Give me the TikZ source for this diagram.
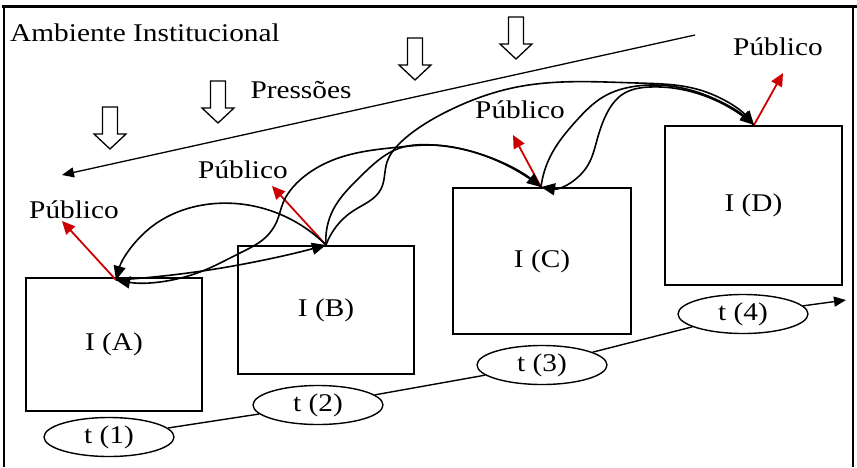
\documentclass[tikz,border=0pt]{standalone}
\usepackage{fontspec}
\setmainfont{Liberation Serif}[FakeStretch=1.15]
\usetikzlibrary{arrows.meta,shapes.geometric,hobby}

\tikzset{
  txt/.style={font=\fontsize{25.5}{28}\selectfont, inner sep=0pt},
  inst/.style={draw, line width=1.4pt, font=\fontsize{25.5}{28}\selectfont},
  tempo/.style={draw, ellipse, line width=1.4pt, minimum width=130pt, minimum height=39pt,
    inner sep=0pt, font=\fontsize{25.5}{28}\selectfont},
  flow/.style={line width=1.6pt, -{Triangle[length=14pt,width=12pt]}},
  pub/.style={draw=red!80!black, line width=1.8pt, -{Triangle[length=13pt,width=12pt]}},
  tline/.style={line width=1.4pt},
  pressure/.pic={
    \draw[line width=1.3pt, fill=white]
      (-7.5,0) -- (-7.5,27) -- (-16,27) -- (0,42) -- (16,27) -- (7.5,27) -- (7.5,0) -- cycle;
  }
}

\begin{document}
\begin{tikzpicture}[x=1pt,y=-1pt]
\useasboundingbox (0,0) rectangle (857,467);

% frame
\draw[line width=3pt] (2,6) -- (857,6);
\draw[line width=1.5pt] (4,6) -- (4,467);
\draw[line width=1.5pt] (853,6) -- (853,467);

% labels of the environment
\node[txt, anchor=west] (amb) at (10,33) {Ambiente Institucional};
\node[txt] (press) at (301,90) {Pressões};

% pressures coming down from the environment
\pic at (110,107) {pressure};
\pic at (218,81) {pressure};
\pic at (415,38) {pressure};
\pic at (516,17) {pressure};

% long pressure line
\coordinate (pr1) at (695,35);
\coordinate (pr2) at (62,175);
\draw[line width=1.3pt, -{Triangle[length=12pt,width=10pt]}] (pr1) -- (pr2);

% institutions
\node[inst, minimum width=176pt, minimum height=133pt] (A) at (114,344.5) {I (A)};
\node[inst, minimum width=176pt, minimum height=128pt] (B) at (326,310) {I (B)};
\node[inst, minimum width=178pt, minimum height=146pt] (C) at (542,261) {I (C)};
\node[inst, minimum width=177pt, minimum height=159pt] (D) at (753.5,205.5) {I (D)};

% contact points on top of each institution
\coordinate (pa) at (116,280);
\coordinate (pb) at (326,245);
\coordinate (pc) at (541,187);
\coordinate (pd) at (754,125);

% public labels and arrows
\node[txt] (pubA) at (74,210) {Público};
\node[txt] (pubB) at (243,170) {Público};
\node[txt] (pubC) at (520,110) {Público};
\node[txt] (pubD) at (778,47) {Público};
\coordinate (rA) at (62,221);
\coordinate (rB) at (272,186);
\coordinate (rC) at (513,135);
\coordinate (rD) at (783,73);
\draw[pub] (pa) -- (rA);
\draw[pub] (pb) -- (rB);
\draw[pub] (pc) -- (rC);
\draw[pub] (pd) -- (rD);

% exchanges between institutions
\draw[flow] (pb) to[curve through={(277,213) (210,204) (150,228)}] (pa);
\draw[flow] (pa) to[curve through={(233,266)}] (pb);
\draw[flow] (pc) to[curve through={(470,151) (433,145) (400,147) (367,151) (333,160) (300,180) (283,203) (277,221) (266,237) (240,253) (200,272)}] (pa);
\draw[flow] (pb) to[curve through={(333,210) (360,177) (400,148) (433,145) (470,151)}] (pc);
\draw[flow] (pb) to[curve through={(353,211) (381,189) (387,162) (400,143) (420,127) (450,110) (517,87) (637,83) (700,90)}] (pd);
\draw[flow] (pc) to[curve through={(550,157) (577,120) (603,97) (637,86) (700,93)}] (pd);
\draw[flow] (pd) to[curve through={(705,96) (650,87) (623,94) (607,113) (597,140) (588,165)}] (pc);

% time line
\node[tempo] (t1) at (109,437) {t (1)};
\node[tempo] (t2) at (318,405) {t (2)};
\node[tempo] (t3) at (542,365) {t (3)};
\node[tempo] (t4) at (743,314) {t (4)};
\coordinate (tend) at (846,300);
\draw[tline] (t1) -- (t2);
\draw[tline] (t2) -- (t3);
\draw[tline] (t3) -- (t4);
\draw[tline, -{Triangle[length=12pt,width=10pt]}] (t4) -- (tend);
\end{tikzpicture}
\end{document}
